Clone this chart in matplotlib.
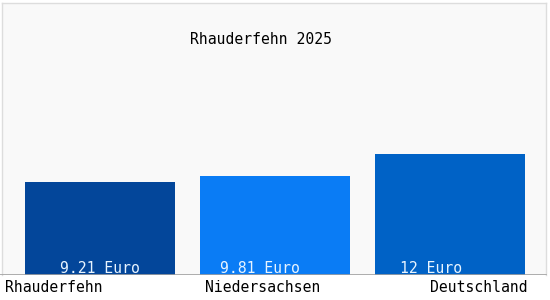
import matplotlib
matplotlib.use("Agg")
import matplotlib.pyplot as plt

categories = ["Rhauderfehn", "Niedersachsen", "Deutschland"]
values = [9.21, 9.81, 12.0]
value_labels = ["9.21 Euro", "9.81 Euro", "12 Euro"]
title = "Rhauderfehn 2025"

colors = ["#03469a", "#0a7cf5", "#0062c6"]
label_offsets = [-0.229, -0.314, -0.286]   # left edge of value text relative to bar centre
cat_x = [-0.545, 0.931, 2.446]
cat_ha = ["left", "center", "right"]

W, H = 550, 300
fig = plt.figure(figsize=(W / 100, H / 100), dpi=100)
fig.patch.set_facecolor("white")

# frame background
bg = fig.add_axes([2 / W, 25 / H, 544 / W, 272 / H])
bg.set_facecolor("#f9f9f9")
for s in bg.spines.values():
    s.set_color("#dddddd")
    s.set_linewidth(1)
bg.spines["bottom"].set_visible(False)
bg.set_xticks([]); bg.set_yticks([])

ax = fig.add_axes([0, 25 / H, 1, 275 / H])
ax.patch.set_visible(False)
unit = 175.0
ax.set_xlim(-100 / unit, (W - 100) / unit)
ax.set_ylim(0, 275 / 10.1)
for s in ax.spines.values():
    s.set_visible(False)
ax.set_xticks([]); ax.set_yticks([])

x = list(range(len(categories)))
ax.bar(x, values, width=150 / unit, color=colors, align="center", zorder=2)
ax.axhline(0, xmin=0, xmax=546 / W, color="#a0a0a0", linewidth=1.2, zorder=3)

font = dict(family="DejaVu Sans Mono", fontsize=10.6)
for i, lab in enumerate(value_labels):
    ax.text(x[i] + label_offsets[i], 0.17, lab, color="#e8f4ff", ha="left",
            va="baseline", zorder=4, **font)

for i, c in enumerate(categories):
    fig.text((cat_x[i] * unit + 100) / W, 1 - 288 / H, c, ha=cat_ha[i],
             va="center", color="black", **font)

fig.text(261 / W, 1 - 39 / H, title, ha="center", va="center", color="black", **font)

fig.savefig("out.png", dpi=100)
